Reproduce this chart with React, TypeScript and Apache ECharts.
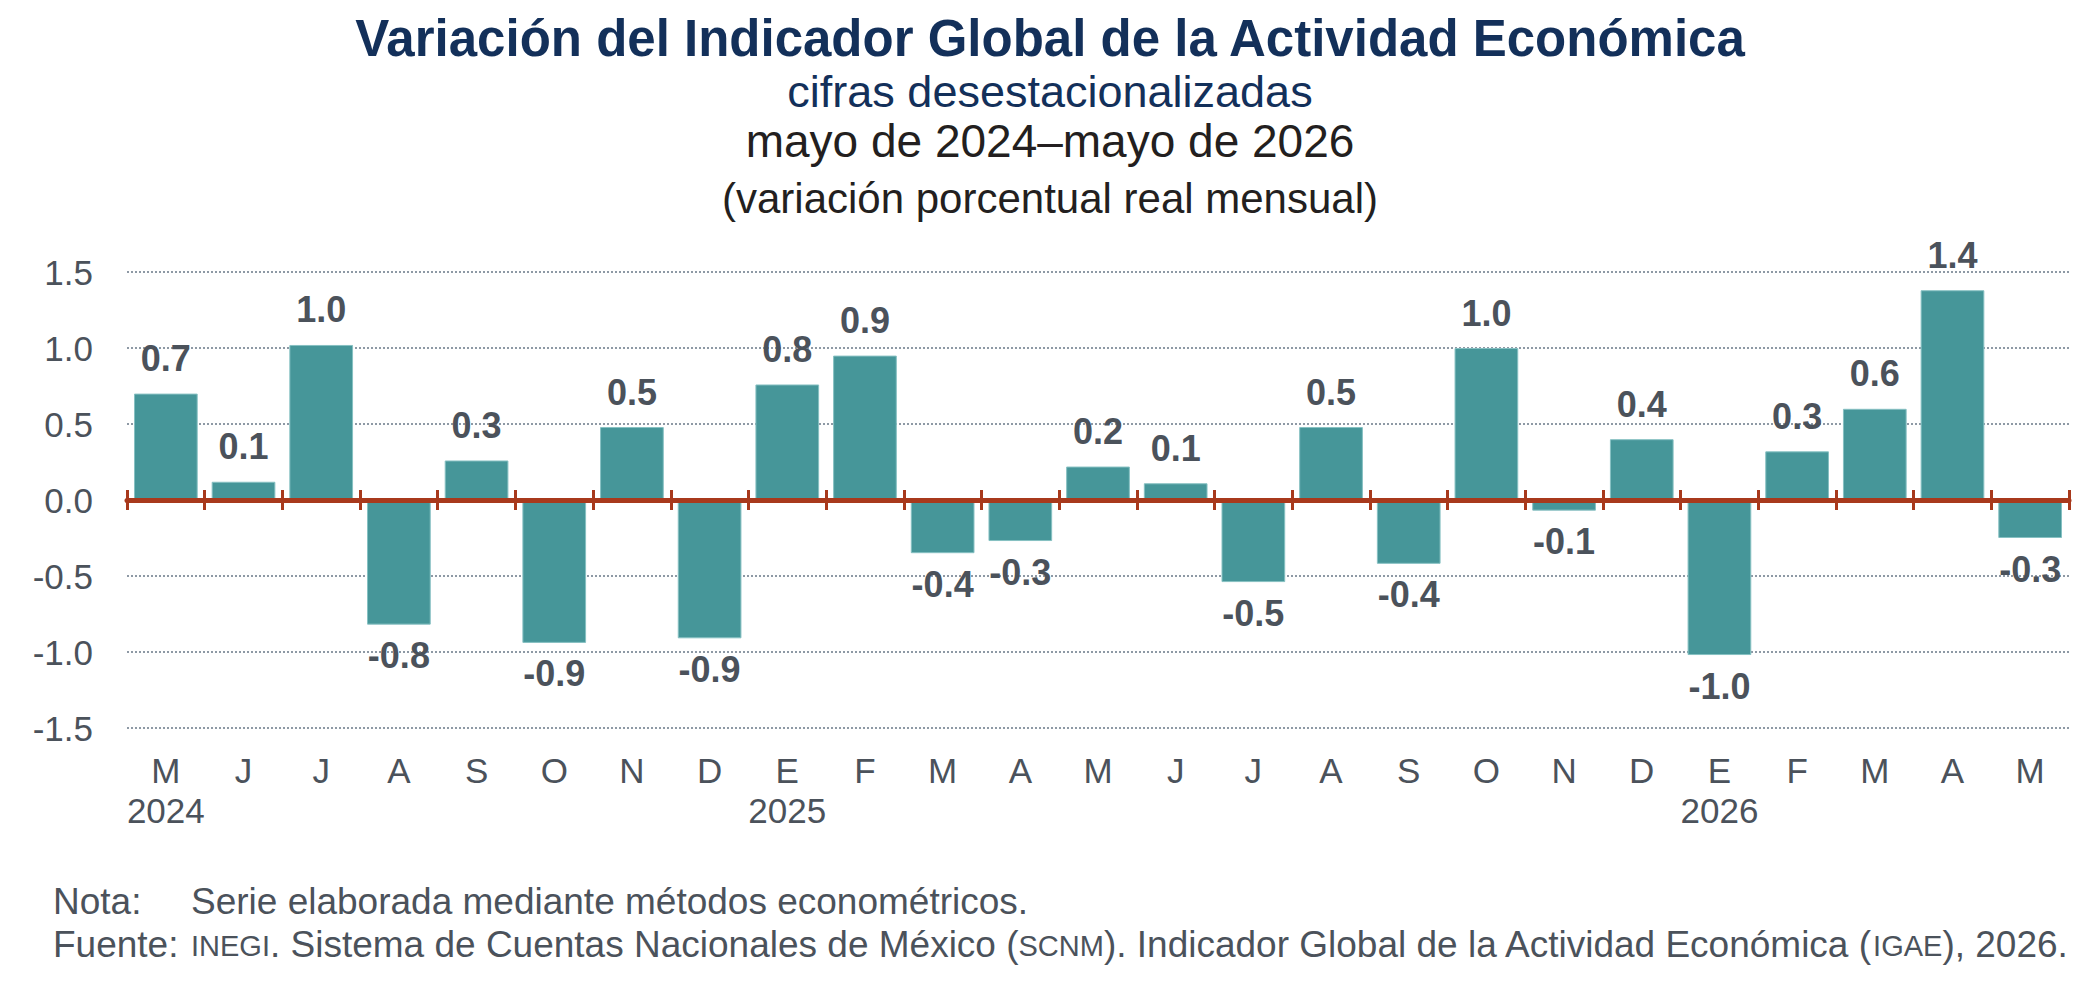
import React, { useEffect, useRef } from "react";
import * as echarts from "echarts";

const months = ["M", "J", "J", "A", "S", "O", "N", "D", "E", "F", "M", "A", "M", "J", "J", "A", "S", "O", "N", "D", "E", "F", "M", "A", "M"];
const years = ["2024", "", "", "", "", "", "", "", "2025", "", "", "", "", "", "", "", "", "", "", "", "2026", "", "", "", ""];
const values = [0.7, 0.12, 1.02, -0.82, 0.26, -0.94, 0.48, -0.91, 0.76, 0.95, -0.35, -0.27, 0.22, 0.11, -0.54, 0.48, -0.42, 1.0, -0.07, 0.4, -1.02, 0.32, 0.6, 1.38, -0.25];
const valueLabels = ["0.7", "0.1", "1.0", "-0.8", "0.3", "-0.9", "0.5", "-0.9", "0.8", "0.9", "-0.4", "-0.3", "0.2", "0.1", "-0.5", "0.5", "-0.4", "1.0", "-0.1", "0.4", "-1.0", "0.3", "0.6", "1.4", "-0.3"];
const yTicks = { min: -1.5, max: 1.5, interval: 0.5 };

const FONT = "'Liberation Sans', Arial, Helvetica, sans-serif";
const NAVY = "#13305a";
const DARK = "#231f20";
const GRAY = "#4b525b";
const TEAL = "#469699";
const RED = "#a8391c";

const GRID_TOP = 272;
const GRID_BOTTOM = 278;
const CHART_H = 1006;

export default function App() {
  const ref = useRef<HTMLDivElement>(null);
  useEffect(() => {
    document.body.style.margin = "0";
    if (!ref.current) return;
    const chart = echarts.init(ref.current, undefined, { renderer: "svg" });
    // pixel distance from the plot's bottom edge up to the zero line
    const plotH = CHART_H - GRID_TOP - GRID_BOTTOM;
    const zeroFromBottom = (plotH * (0 - yTicks.min)) / (yTicks.max - yTicks.min);
    const zeroFromTop = plotH - zeroFromBottom;
    const barData = values.map((v) => ({
      value: v,
      label: { position: v >= 0 ? "top" : "bottom", distance: v >= 0 ? 17 : 13 },
    }));
    chart.setOption({
      animation: false,
      backgroundColor: "#ffffff",
      grid: { left: 127, right: 29, top: GRID_TOP, bottom: GRID_BOTTOM, containLabel: false },
      xAxis: [
        {
          type: "category",
          data: months,
          position: "bottom",
          axisLine: { show: false, onZero: false },
          axisTick: { show: false },
          splitLine: { show: false },
          axisLabel: {
            interval: 0,
            margin: 22,
            fontFamily: FONT,
            fontSize: 35,
            lineHeight: 40,
            color: GRAY,
            formatter: (v: string, i: number) => (years[i] ? v + "\n" + years[i] : v),
          },
        },
        {
          type: "category",
          data: months,
          position: "bottom",
          offset: -zeroFromBottom,
          z: 5,
          axisLine: { show: true, onZero: false, lineStyle: { color: RED, width: 5 } },
          axisTick: { show: true, length: 10, lineStyle: { color: RED, width: 3 } },
          axisLabel: { show: false },
          splitLine: { show: false },
        },
        {
          type: "category",
          data: months,
          position: "top",
          offset: -zeroFromTop,
          z: 5,
          axisLine: { show: false, onZero: false },
          axisTick: { show: true, length: 10, lineStyle: { color: RED, width: 3 } },
          axisLabel: { show: false },
          splitLine: { show: false },
        },
      ],
      yAxis: {
        type: "value",
        min: yTicks.min,
        max: yTicks.max,
        interval: yTicks.interval,
        axisLine: { show: false },
        axisTick: { show: false },
        axisLabel: {
          margin: 34,
          fontFamily: FONT,
          fontSize: 35,
          color: GRAY,
          formatter: (v: number) => v.toFixed(1),
        },
        splitLine: { show: true, lineStyle: { color: "#8e99a5", width: 2, type: [2, 2] } },
      },
      series: [
        {
          type: "bar",
          xAxisIndex: 0,
          data: barData,
          barCategoryGap: "18%",
          itemStyle: { color: TEAL, borderColor: "#86c0c2", borderWidth: 1 },
          label: {
            show: true,
            fontFamily: FONT,
            fontSize: 36,
            fontWeight: "bold",
            color: GRAY,
            formatter: (p: any) => valueLabels[p.dataIndex],
          },
        },
      ],
      graphic: [
        {
          type: "text",
          x: 1050,
          y: 38,
          style: { text: "Variación del Indicador Global de la Actividad Económica", font: `bold 51px ${FONT}`, fill: NAVY, textAlign: "center", textVerticalAlign: "middle" },
        },
        {
          type: "text",
          x: 1050,
          y: 91,
          style: { text: "cifras desestacionalizadas", font: `45px ${FONT}`, fill: NAVY, textAlign: "center", textVerticalAlign: "middle" },
        },
        {
          type: "text",
          x: 1050,
          y: 141,
          style: { text: "mayo de 2024–mayo de 2026", font: `46px ${FONT}`, fill: DARK, textAlign: "center", textVerticalAlign: "middle" },
        },
        {
          type: "text",
          x: 1050,
          y: 198,
          style: { text: "(variación porcentual real mensual)", font: `42px ${FONT}`, fill: DARK, textAlign: "center", textVerticalAlign: "middle" },
        },
        {
          type: "text",
          x: 53,
          y: 901,
          style: { text: "Nota:", font: `37px ${FONT}`, fill: GRAY, textAlign: "left", textVerticalAlign: "middle" },
        },
        {
          type: "text",
          x: 191,
          y: 901,
          style: { text: "Serie elaborada mediante métodos econométricos.", font: `37px ${FONT}`, fill: GRAY, textAlign: "left", textVerticalAlign: "middle" },
        },
        {
          type: "text",
          x: 53,
          y: 944,
          style: { text: "Fuente:", font: `37px ${FONT}`, fill: GRAY, textAlign: "left", textVerticalAlign: "middle" },
        },
        {
          type: "text",
          x: 191,
          y: 944,
          style: {
            text: "{sc|INEGI}. Sistema de Cuentas Nacionales de México ({sc|SCNM}). Indicador Global de la Actividad Económica ({sc|IGAE}), 2026.",
            fontFamily: FONT,
            fontSize: 37,
            fill: GRAY,
            textAlign: "left",
            textVerticalAlign: "middle",
            rich: { sc: { fontFamily: FONT, fontSize: 29, fill: GRAY, padding: [4, 0, 0, 0] } },
          },
        },
      ],
    });
    return () => chart.dispose();
  }, []);
  return <div ref={ref} style={{ width: 2098, height: 1006 }} />;
}
